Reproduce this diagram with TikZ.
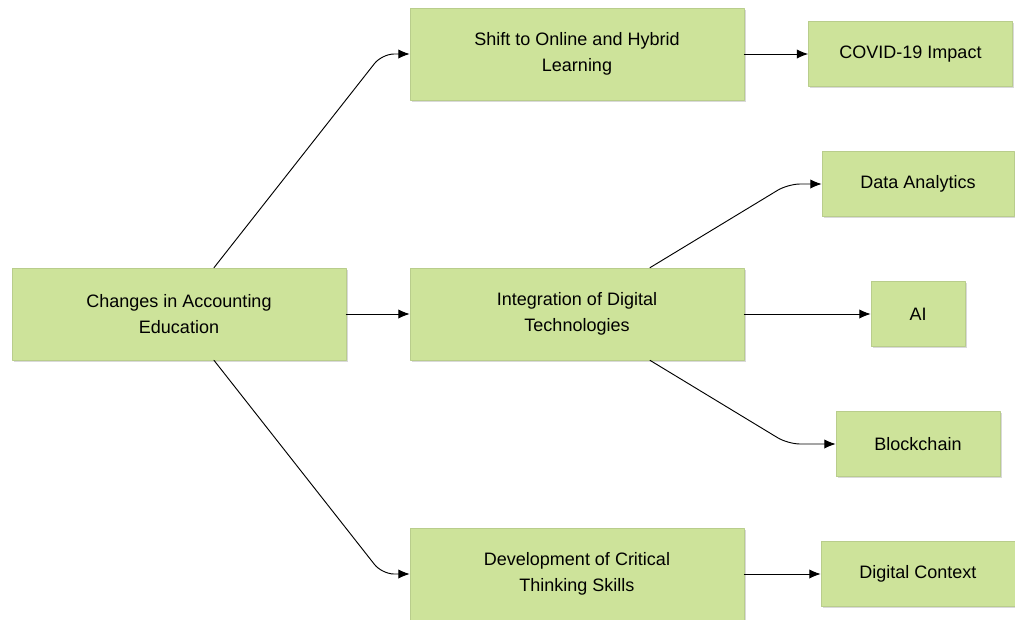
\documentclass[tikz,border=0pt]{standalone}
\usepackage{fontspec}
\setmainfont{Liberation Sans}
\usetikzlibrary{arrows.meta,shadows}
\definecolor{boxgreen}{RGB}{205,227,154}
\definecolor{boxline}{RGB}{185,205,140}
\tikzset{
  topic/.style={draw=boxline, line width=0.5pt, fill=boxgreen, align=center, inner sep=0pt,
    font=\fontsize{13.5}{20}\selectfont,
    drop shadow={shadow xshift=1.2pt, shadow yshift=-1.2pt, opacity=0.25, fill=black!60}},
  link/.style={-{Latex[length=8.5pt,width=7pt]}, line width=0.7pt, rounded corners=9pt}
}
\begin{document}
\begin{tikzpicture}[x=0.75pt, y=-0.75pt, line join=round, line cap=round]
		\useasboundingbox (0,0) rectangle (1015,619);
		% main branch
		\node[topic, minimum width=250.5pt, minimum height=69pt] (root) at (179,314) {Changes in Accounting\\Education};
		\node[topic, minimum width=250.5pt, minimum height=69pt] (shift) at (577,54) {Shift to Online and Hybrid\\Learning};
		\node[topic, minimum width=250.5pt, minimum height=69pt] (integ) at (577,314) {Integration of Digital\\Technologies};
		\node[topic, minimum width=250.5pt, minimum height=69pt] (crit) at (577,574) {Development of Critical\\Thinking Skills};
		% leaves
		\node[topic, minimum width=153pt, minimum height=49pt] (covid) at (910.5,54) {COVID-19 Impact};
		\node[topic, minimum width=144pt, minimum height=49pt] (data) at (918,184) {Data Analytics};
		\node[topic, minimum width=70.5pt, minimum height=49pt] (ai) at (918,314) {AI};
		\node[topic, minimum width=123pt, minimum height=49pt] (chain) at (918,444) {Blockchain};
		\node[topic, minimum width=145.5pt, minimum height=49pt] (ctx) at (918,574) {Digital Context};
		% connectors
		\draw[link] (root.north -| 214,0) -- (382,54) -- (shift.west);
		\draw[link] (root.south -| 214,0) -- (382,574) -- (crit.west);
		\draw[link] (root.east) -- (integ.west);
		\draw[link] (shift.east) -- (covid.west);
		\draw[link] (integ.north -| 650,0) -- (788,184) -- (data.west);
		\draw[link] (integ.east) -- (ai.west);
		\draw[link] (integ.south -| 650,0) -- (788,444) -- (chain.west);
		\draw[link] (crit.east) -- (ctx.west);
\end{tikzpicture}
\end{document}
